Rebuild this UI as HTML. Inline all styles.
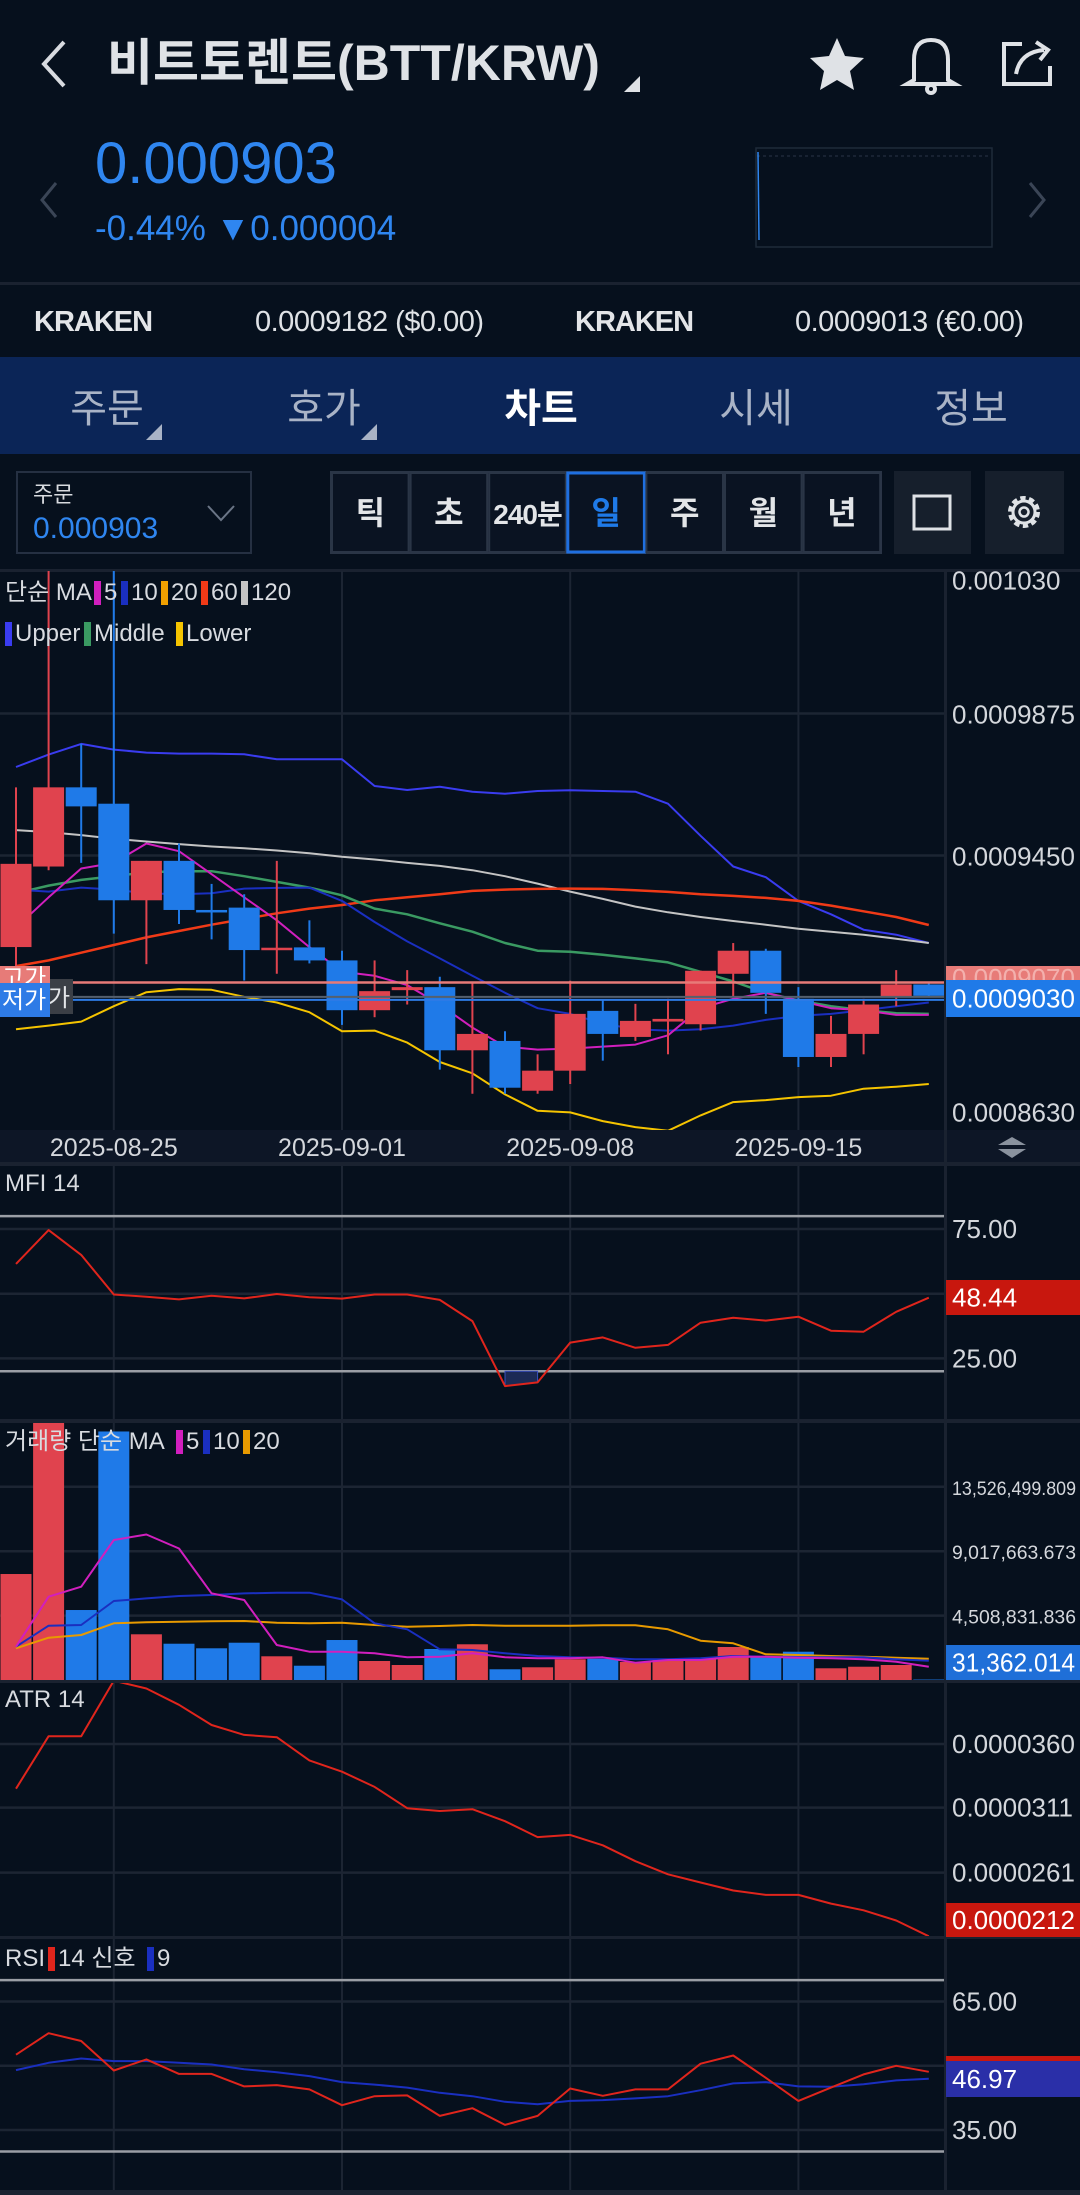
<!DOCTYPE html>
<html><head><meta charset="utf-8">
<style>
html,body{margin:0;padding:0;background:#06101d;}
body{width:1080px;height:2195px;overflow:hidden;position:relative;font-family:"Liberation Sans","Noto Sans CJK KR",sans-serif;}
svg{position:absolute;left:0;top:0;}
text{font-family:"Liberation Sans","Noto Sans CJK KR",sans-serif;}
</style></head>
<body>
<svg id="root" width="1080" height="2195" viewBox="0 0 1080 2195" xmlns="http://www.w3.org/2000/svg">
  <rect x="0" y="0" width="1080" height="2195" fill="#06101d"/>
  <g>
    <polyline points="64,42 44,64 64,86" fill="none" stroke="#d8dbe0" stroke-width="4"/>
    <text x="107" y="80" font-size="50" font-weight="bold" fill="#dfe2e6">비트토렌트(BTT/KRW)</text>
    <polygon points="640,92 640,76 624,92" fill="#dfe2e6"/>
    <polygon points="837,38 845,56 864,58 850,71 854,90 837,80 820,90 824,71 810,58 829,56" fill="#dfe2e6"/>
    <g fill="none" stroke="#dfe2e6" stroke-width="4">
      <path d="M914,80 L914,60 Q914,40 931,40 Q948,40 948,60 L948,80 L955,84 L907,84 Z"/>
      <circle cx="931" cy="89" r="4"/>
    </g>
    <g fill="none" stroke="#dfe2e6" stroke-width="4">
      <path d="M1022,44 L1004,44 L1004,84 L1050,84 L1050,66"/>
      <path d="M1016,74 Q1020,52 1044,50 M1036,42 L1048,50 L1040,60"/>
    </g>
    <polyline points="56,183 42,200 56,217" fill="none" stroke="#3a4556" stroke-width="3"/>
    <polyline points="1030,183 1044,200 1030,217" fill="none" stroke="#3a4556" stroke-width="3"/>
    <text x="95" y="183" font-size="58" fill="#2f86f0">0.000903</text>
    <text x="95" y="240" font-size="35" fill="#2f86f0">-0.44%  ▼0.000004</text>
    <rect x="756" y="148" width="236" height="99" fill="none" stroke="#1f2a3a" stroke-width="1.5"/>
    <line x1="757" y1="156" x2="991" y2="156" stroke="#2a3548" stroke-width="1" stroke-dasharray="3,3"/>
    <line x1="758" y1="152" x2="759" y2="240" stroke="#2f86f0" stroke-width="1.5"/>
    <rect x="0" y="282" width="1080" height="3" fill="#1a2230"/>
    <text x="34" y="331" font-size="29" font-weight="bold" fill="#e3e5e8" letter-spacing="-1">KRAKEN</text>
    <text x="255" y="331" font-size="29" fill="#dfe2e6" letter-spacing="-0.5">0.0009182 ($0.00)</text>
    <text x="575" y="331" font-size="29" font-weight="bold" fill="#e3e5e8" letter-spacing="-1">KRAKEN</text>
    <text x="795" y="331" font-size="29" fill="#dfe2e6" letter-spacing="-0.5">0.0009013 (€0.00)</text>
  </g>
  <g>
    <rect x="0" y="357" width="1080" height="97" fill="#0b2557"/>
    <text x="107" y="422" font-size="40" text-anchor="middle" fill="#a9b3c6">주문</text>
    <polygon points="162,424 162,440 146,440" fill="#a9b3c6"/>
    <text x="324" y="422" font-size="40" text-anchor="middle" fill="#a9b3c6">호가</text>
    <polygon points="377,424 377,440 361,440" fill="#a9b3c6"/>
    <text x="541" y="422" font-size="40" font-weight="bold" text-anchor="middle" fill="#ffffff">차트</text>
    <text x="756" y="422" font-size="40" text-anchor="middle" fill="#a9b3c6">시세</text>
    <text x="971" y="422" font-size="40" text-anchor="middle" fill="#a9b3c6">정보</text>
  </g>
  <g>
    <rect x="17" y="472" width="234" height="81" fill="#06101d" stroke="#253042" stroke-width="2"/>
    <text x="33" y="502" font-size="22" fill="#d8dbe0">주문</text>
    <text x="33" y="538" font-size="30" fill="#2f86f0">0.000903</text>
    <polyline points="208,506 221,520 234,506" fill="none" stroke="#6a7586" stroke-width="2"/>
    <rect x="331" y="472" width="550" height="81" fill="#0a1322" stroke="#2a3546" stroke-width="2"/>
    <g id="period-buttons"></g>
    <rect x="894" y="471" width="77" height="83" fill="#161f2c"/>
    <rect x="914" y="496" width="36" height="33" fill="none" stroke="#dfe2e6" stroke-width="3"/>
    <rect x="985" y="471" width="79" height="83" fill="#161f2c"/>
    <circle cx="1024" cy="512" r="13" fill="none" stroke="#dfe2e6" stroke-width="6" stroke-dasharray="5,3.2"/>
    <circle cx="1024" cy="512" r="11" fill="none" stroke="#dfe2e6" stroke-width="3"/>
    <circle cx="1024" cy="512" r="4.5" fill="none" stroke="#dfe2e6" stroke-width="2.5"/>
  </g>
  <g id="charts"></g>
</svg>
<script>
const dates = ["2025-08-25","2025-09-01","2025-09-08","2025-09-15"];
const dateIdx = [3,10,17,24];
const opens  = [9176,9417,9654,9605,9316,9434,9287,9294,9167,9175,9136,8987,9047,9056,8867,8895,8746,8806,8985,8907,8953,8945,9096,9165,9021,8847,8916,9027,9064];
const highs  = [9654,10400,9784,10400,9434,9486,9365,9334,9434,9256,9165,9136,9107,9087,9067,8924,8855,9075,9016,9006,9021,9105,9188,9171,9056,8970,9021,9107,9070];
const lows   = [9119,9406,9428,9216,9125,9245,9199,9076,9096,9127,8943,8966,9004,8809,8737,8737,8737,8766,8836,8895,8855,8926,9027,8976,8817,8817,8855,8999,9027];
const closes = [9425,9654,9597,9316,9434,9287,9284,9167,9174,9136,8987,9044,9056,8867,8916,8755,8806,8976,8916,8955,8961,9105,9165,9039,8847,8916,9004,9064,9030];
const ma5   = [9234,9325,9411,9428,9486,9463,9394,9325,9256,9176,9102,9090,9062,9004,8935,8878,8869,8872,8878,8884,8912,8993,9021,9039,9016,8993,8987,8973,8973];
const ma10  = [9348,9342,9354,9348,9337,9334,9337,9351,9353,9354,9314,9251,9193,9142,9090,9039,8993,8976,8947,8930,8926,8930,8941,8958,8970,8976,8987,8999,9010];
const ma60  = [9119,9136,9159,9182,9205,9224,9243,9260,9277,9291,9302,9316,9325,9334,9344,9348,9350,9351,9350,9346,9341,9334,9329,9323,9314,9300,9283,9266,9242];
const ma120 = [9526,9520,9511,9500,9492,9484,9477,9472,9465,9457,9446,9438,9428,9419,9406,9388,9366,9342,9320,9297,9280,9266,9254,9243,9231,9222,9213,9201,9188];
const bbUpper  = [9715,9752,9784,9767,9758,9755,9755,9753,9738,9738,9738,9658,9646,9656,9641,9635,9643,9645,9643,9641,9605,9509,9417,9385,9314,9274,9228,9213,9188];
const bbMiddle = [9337,9360,9377,9388,9400,9403,9403,9388,9371,9354,9331,9291,9274,9247,9222,9188,9165,9162,9153,9142,9130,9102,9073,9039,9016,8999,8987,8978,8976];
const bbLower  = [8930,8941,8953,8999,9041,9050,9048,9027,9010,8981,8924,8926,8890,8832,8798,8735,8686,8681,8655,8637,8626,8672,8712,8718,8727,8731,8752,8758,8766];
const priceTicks = ["0.001030","0.0009875","0.0009450","0.0008630"];
const priceTickVals = [10300,9875,9450,8630];
const highLine = 9070, lastPrice = 9030;
const mfi = [61.5,74.6,65.0,49.7,48.8,47.8,49.2,48.2,49.9,48.6,48.1,49.7,49.7,47.6,39.4,14.3,15.7,31.1,33.1,29.1,30.2,38.8,40.7,39.6,41.1,35.7,35.3,43.0,48.44];
const mfiTicks = [75,25];
const volumes = [7.42,19.5,4.90,17.4,3.20,2.54,2.22,2.61,1.66,1.00,2.80,1.33,1.05,2.17,2.50,0.75,0.89,1.45,1.49,1.26,1.40,1.45,2.31,1.63,1.98,0.82,0.93,1.05,0.031362];
const volMa5  = [2.33,5.83,6.53,9.80,10.19,9.21,6.06,5.60,2.45,1.98,1.98,1.87,1.59,1.63,1.87,1.59,1.52,1.52,1.59,1.21,1.40,1.40,1.63,1.63,1.56,1.52,1.45,1.28,0.93];
const volMa10 = [2.33,3.80,3.85,5.53,5.71,5.88,5.95,6.06,6.11,6.11,5.64,3.97,3.55,2.15,2.10,1.87,1.68,1.59,1.56,1.45,1.45,1.52,1.68,1.63,1.59,1.59,1.59,1.45,1.35];
const volMa20 = [2.22,2.96,3.15,3.97,4.04,4.08,4.11,4.13,4.01,3.97,4.01,3.85,3.73,3.78,3.85,3.80,3.80,3.80,3.83,3.83,3.55,2.75,2.57,1.80,1.75,1.68,1.63,1.56,1.49];
const volTicks = ["13,526,499.809","9,017,663.673","4,508,831.836"];
const volTickVals = [13.526499809,9.017663673,4.508831836];
const atr = [325.6,366,366,408.7,402.7,390.2,374.6,367,365.2,347.4,338.7,327,310.6,308.4,309.8,300.6,288.3,290,282,269.8,259.7,253.4,247.2,243.8,243.8,237.1,232,224.1,212];
const atrTicks = ["0.0000360","0.0000311","0.0000261"];
const atrTickVals = [360,311,261];
const rsi = [52.6,57.6,55.8,48.9,51.5,48.1,48.1,45.2,45.5,44.5,40.8,42.9,43.1,38.3,40.1,36.2,38.3,44.7,43.0,44.5,44.5,50.5,52.4,47.2,41.8,44.9,48.0,50.0,48.6];
const rsiSignal = [49.0,50.7,51.7,51.1,51.1,50.7,50.3,49.2,48.5,47.6,46.2,45.6,44.9,43.7,42.9,41.6,41.0,41.8,42.0,42.4,42.9,44.3,45.9,46.2,45.2,45.1,45.7,46.6,46.97];
const rsiTicks = [65,35];
const periods = ["틱","초","240분","일","주","월","년"];

const NS = "http://www.w3.org/2000/svg";
const root = document.getElementById("charts");
function mk(tag, attrs, parent) {
  const e = document.createElementNS(NS, tag);
  for (const k in attrs) e.setAttribute(k, attrs[k]);
  (parent || root).appendChild(e);
  return e;
}
const X = i => 16 + 32.6 * i;
const yP = p => 571.5 + (10300 - p) * 0.33412;
const yV = v => 1680 - v * 14.283;
const yM = v => 1293.7 - (v - 50) * 2.587;
const yA = v => 1744 + (360 - v) * 1.299;
const yR = v => 2065.8 - (v - 50) * 4.283;
const GRID = "#1c2533", AX = "#d4d7dc";

const pb = document.getElementById("period-buttons");
periods.forEach((p, i) => {
  const x0 = 331 + i * 78.6;
  const r = mk("rect", {x: x0 + 1, y: 473, width: 76.6, height: 79, fill: "#0a1322", stroke: i === 3 ? "#1f6fe0" : "#2a3546", "stroke-width": i === 3 ? 3 : 2}, pb);
  
  
  const t = mk("text", {x: x0 + 39.3, y: 524, "font-size": p.length > 2 ? 28 : 32, "font-weight": "bold", "text-anchor": "middle", fill: i === 3 ? "#1f7ae8" : "#e3e5e8", "letter-spacing": p.length > 2 ? -1 : 0}, pb);
  t.textContent = p;
  
  
});

[[569, 572], [1162, 1166], [1419, 1423], [1680, 1683], [1936, 1939], [2190, 2195]].forEach(([a, b]) => {
  const s = mk("rect", {x: 0, y: a, width: 1080, height: b - a, fill: "#1a2230"});
  
  
});
const band = mk("rect", {x: 0, y: 1130, width: 1080, height: 32, fill: "#0d1626"});


const axLine = mk("rect", {x: 944, y: 571, width: 3, height: 1619, fill: "#1a2230"});



[[571, 1130], [1166, 1419], [1423, 1680], [1683, 1936], [1939, 2190]].forEach(([a, b]) => {
  dateIdx.forEach(i => {
    const l = mk("line", {x1: X(i), y1: a, x2: X(i), y2: b, stroke: GRID, "stroke-width": 2});
    
    
  });
});
function hgrid(y, x2) {
  const l = mk("line", {x1: 0, y1: y, x2: x2 || 944, y2: y, stroke: GRID, "stroke-width": 2.5});
  
  
}
function axText(txt, y, size, name, fitW) {
  const attrs = {x: 952, y: y, "font-size": size || 26, fill: AX};
  if (fitW) { attrs.textLength = fitW; attrs.lengthAdjust = "spacingAndGlyphs"; }
  const t = mk("text", attrs);
  t.textContent = txt;
  
  
  return t;
}
function line(vals, yf, color, w, name, clipId) {
  const pts = vals.map((v, i) => X(i).toFixed(1) + "," + yf(v).toFixed(1)).join(" ");
  const attrs = {points: pts, fill: "none", stroke: color, "stroke-width": w || 2, "stroke-linejoin": "round"};
  if (clipId) attrs["clip-path"] = "url(#" + clipId + ")";
  const p = mk("polyline", attrs);
  
  
  return p;
}
function valBox(y0, h, bg, txt, name, fg, fitW) {
  const r = mk("rect", {x: 946, y: y0, width: 134, height: h, fill: bg});
  
  
  const attrs = {x: 952, y: y0 + h / 2 + 9, "font-size": 26, fill: fg || "#ffffff"};
  if (fitW) { attrs.textLength = fitW; attrs.lengthAdjust = "spacingAndGlyphs"; }
  const t = mk("text", attrs);
  t.textContent = txt;
  
  
}
function legend(x, y, items, name) {
  const g = mk("g", {});
  
  
  let cx = x;
  items.forEach(([t, c]) => {
    if (c) { mk("rect", {x: cx, y: y - 19, width: 7, height: 24, fill: c}, g); cx += 10; }
    const tx = mk("text", {x: cx, y: y, "font-size": 24, fill: "#d8dbe0"}, g);
    tx.textContent = t;
    cx += t.length * 13 + (/[가-힣]/.test(t) ? t.replace(/[^가-힣]/g, "").length * 10 : 0) + 4;
  });
}

const defs = mk("defs", {});
[["clipMain", 571, 1130], ["clipMfi", 1166, 1419], ["clipVol", 1423, 1680], ["clipAtr", 1683, 1936], ["clipRsi", 1939, 2190]].forEach(([id, a, b]) => {
  const c = mk("clipPath", {id: id}, defs);
  mk("rect", {x: 0, y: a, width: 944, height: b - a}, c);
});

// main chart
priceTickVals.forEach((v, k) => { if (k === 1 || k === 2) hgrid(yP(v)); });
priceTickVals.forEach((v, k) => axText(priceTicks[k], yP(v) + (k === 0 ? 18 : k === 3 ? -8 : 10), 26, 'price-tick-label'));
line(bbUpper, yP, "#3a3cf0", 2, 'bb-upper-line', 'clipMain');
line(ma120, yP, "#c4c4c4", 2, 'ma120-line', 'clipMain');
line(ma60, yP, "#f03a17", 2.5, 'ma60-line', 'clipMain');
line(bbMiddle, yP, "#3a9a62", 2.5, 'bb-middle-line', 'clipMain');
line(ma10, yP, "#1a2fc0", 2, 'ma10-line', 'clipMain');
line(ma5, yP, "#d11fbe", 2, 'ma5-line', 'clipMain');
line(bbLower, yP, "#f5c400", 2, 'bb-lower-line', 'clipMain');
opens.forEach((o, i) => {
  const c = closes[i], up = c >= o, col = up ? "#e0434e" : "#1f7ae8";
  const w = mk("line", {x1: X(i), y1: yP(highs[i]), x2: X(i), y2: yP(lows[i]), stroke: col, "stroke-width": 2, "clip-path": "url(#clipMain)"});
  
  
  const top = yP(Math.max(o, c)), bot = yP(Math.min(o, c));
  const b = mk("rect", {x: X(i) - 15.5, y: top, width: 31, height: Math.max(2.5, bot - top), fill: col, "clip-path": "url(#clipMain)"});
  
  
});
const hl = mk("line", {x1: 0, y1: yP(highLine), x2: 944, y2: yP(highLine), stroke: "#e77b78", "stroke-width": 2.5});


const gl = mk("line", {x1: 0, y1: yP(lastPrice) + 1, x2: 944, y2: yP(lastPrice) + 1, stroke: "#55606e", "stroke-width": 2});


const ll = mk("line", {x1: 0, y1: yP(lastPrice) + 4, x2: 944, y2: yP(lastPrice) + 4, stroke: "#2e7be6", "stroke-width": 2});


const gtag = mk("rect", {x: 0, y: 979, width: 73, height: 35, fill: "#3b3f46"});


const gt = mk("text", {x: 48, y: 1006, "font-size": 24, fill: "#e3e5e8"}); gt.textContent = "가";


const rtag = mk("rect", {x: 0, y: 966, width: 50, height: 18, fill: "#e77b78"});


const rt = mk("text", {x: 2, y: 986, "font-size": 24, fill: "#ffffff"}); rt.textContent = "고가";


const btag = mk("rect", {x: 0, y: 983, width: 50, height: 34, fill: "#2e7be6"});


const bt = mk("text", {x: 2, y: 1008, "font-size": 24, fill: "#ffffff"}); bt.textContent = "저가";


valBox(966, 24, "#e77b78", "0.0009070", 'high-price-value', "#f3b0ad");
valBox(980, 37, "#1f7ae8", "0.0009030", 'last-price-value');
legend(5, 600, [["단순 MA", null], ["5", "#d11fbe"], ["10", "#1a2fc0"], ["20", "#f0a000"], ["60", "#f03a17"], ["120", "#c4c4c4"]], 'ma-legend');
legend(5, 641, [["Upper", "#3a3cf0"], ["Middle", "#3a9a62"], ["Lower", "#f5c400"]], 'bollinger-legend');
dates.forEach((d, k) => {
  const t = mk("text", {x: X(dateIdx[k]), y: 1156, "font-size": 25, "text-anchor": "middle", fill: AX});
  t.textContent = d;
  
  
});
const sz = mk("g", {fill: "#8a929e"});


mk("polygon", {points: "1012,1137 1026,1145 998,1145"}, sz);
mk("polygon", {points: "1012,1158 1026,1149 998,1149"}, sz);

// MFI
const mt = mk("text", {x: 5, y: 1191, "font-size": 24, fill: "#d8dbe0"}); mt.textContent = "MFI 14";


mfiTicks.forEach(v => { hgrid(yM(v)); axText(v.toFixed(2), yM(v) + 9, 26, 'mfi-tick-label'); });
hgrid(yM(50));
[80, 20].forEach(v => {
  const l = mk("line", {x1: 0, y1: yM(v), x2: 944, y2: yM(v), stroke: "#9a9ea5", "stroke-width": 2.5});
  
  
});
const fillPts = [];
mfi.forEach((v, i) => { if (v < 20) fillPts.push([X(i), yM(v)]); });
if (fillPts.length) {
  const f = mk("polygon", {points: fillPts[0][0] + "," + yM(20) + " " + fillPts.map(p => p.join(",")).join(" ") + " " + fillPts[fillPts.length - 1][0] + "," + yM(20), fill: "#1c2a55", stroke: "#3a50c0", "stroke-width": 1});
  
  
}
line(mfi, yM, "#e0251c", 2, 'mfi-line', 'clipMfi');
valBox(1280, 35, "#c8170e", "48.44", 'mfi-value');

// Volume
volTickVals.forEach((v, k) => { hgrid(yV(v)); axText(volTicks[k], yV(v) + 8, 19, 'volume-tick-label', 124); });
volumes.forEach((v, i) => {
  const col = closes[i] >= opens[i] ? "#e0434e" : "#1f7ae8";
  const r = mk("rect", {x: X(i) - 15.5, y: yV(v), width: 31, height: 1680 - yV(v), fill: col, "clip-path": "url(#clipVol)"});
  
  
});
line(volMa20, yV, "#e89a00", 2, 'volume-ma20-line', 'clipVol');
line(volMa10, yV, "#1a2fc0", 2, 'volume-ma10-line', 'clipVol');
line(volMa5, yV, "#d11fbe", 2, 'volume-ma5-line', 'clipVol');
legend(5, 1449, [["거래량 단순 MA", null], ["5", "#d11fbe"], ["10", "#1a2fc0"], ["20", "#e89a00"]], 'volume-legend');
valBox(1645, 35, "#1f6fd8", "31,362.014", 'volume-value', null, 123);

// ATR
atrTickVals.forEach((v, k) => { hgrid(yA(v)); axText(atrTicks[k], yA(v) + 9, 26, 'atr-tick-label'); });
line(atr, yA, "#e0251c", 2, 'atr-line', 'clipAtr');
const at = mk("text", {x: 5, y: 1707, "font-size": 24, fill: "#d8dbe0"}); at.textContent = "ATR 14";


valBox(1903, 34, "#c8170e", "0.0000212", 'atr-value');

// RSI
rsiTicks.forEach(v => { hgrid(yR(v)); axText(v.toFixed(2), yR(v) + 9, 26, 'rsi-tick-label'); });
hgrid(yR(50));
[70, 30].forEach(v => {
  const l = mk("line", {x1: 0, y1: yR(v), x2: 944, y2: yR(v), stroke: "#9a9ea5", "stroke-width": 2.5});
  
  
});
line(rsiSignal, yR, "#1a2fc0", 2, 'rsi-signal-line', 'clipRsi');
line(rsi, yR, "#e0251c", 2, 'rsi-line', 'clipRsi');
legend(5, 1966, [["RSI", null], ["14 신호", "#e0251c"], ["9", "#1a2fc0"]], 'rsi-legend');
valBox(2056, 10, "#c8170e", "", 'rsi-value-back');
valBox(2061, 36, "#2a2fa8", "46.97", 'rsi-value');
</script>
</body></html>
